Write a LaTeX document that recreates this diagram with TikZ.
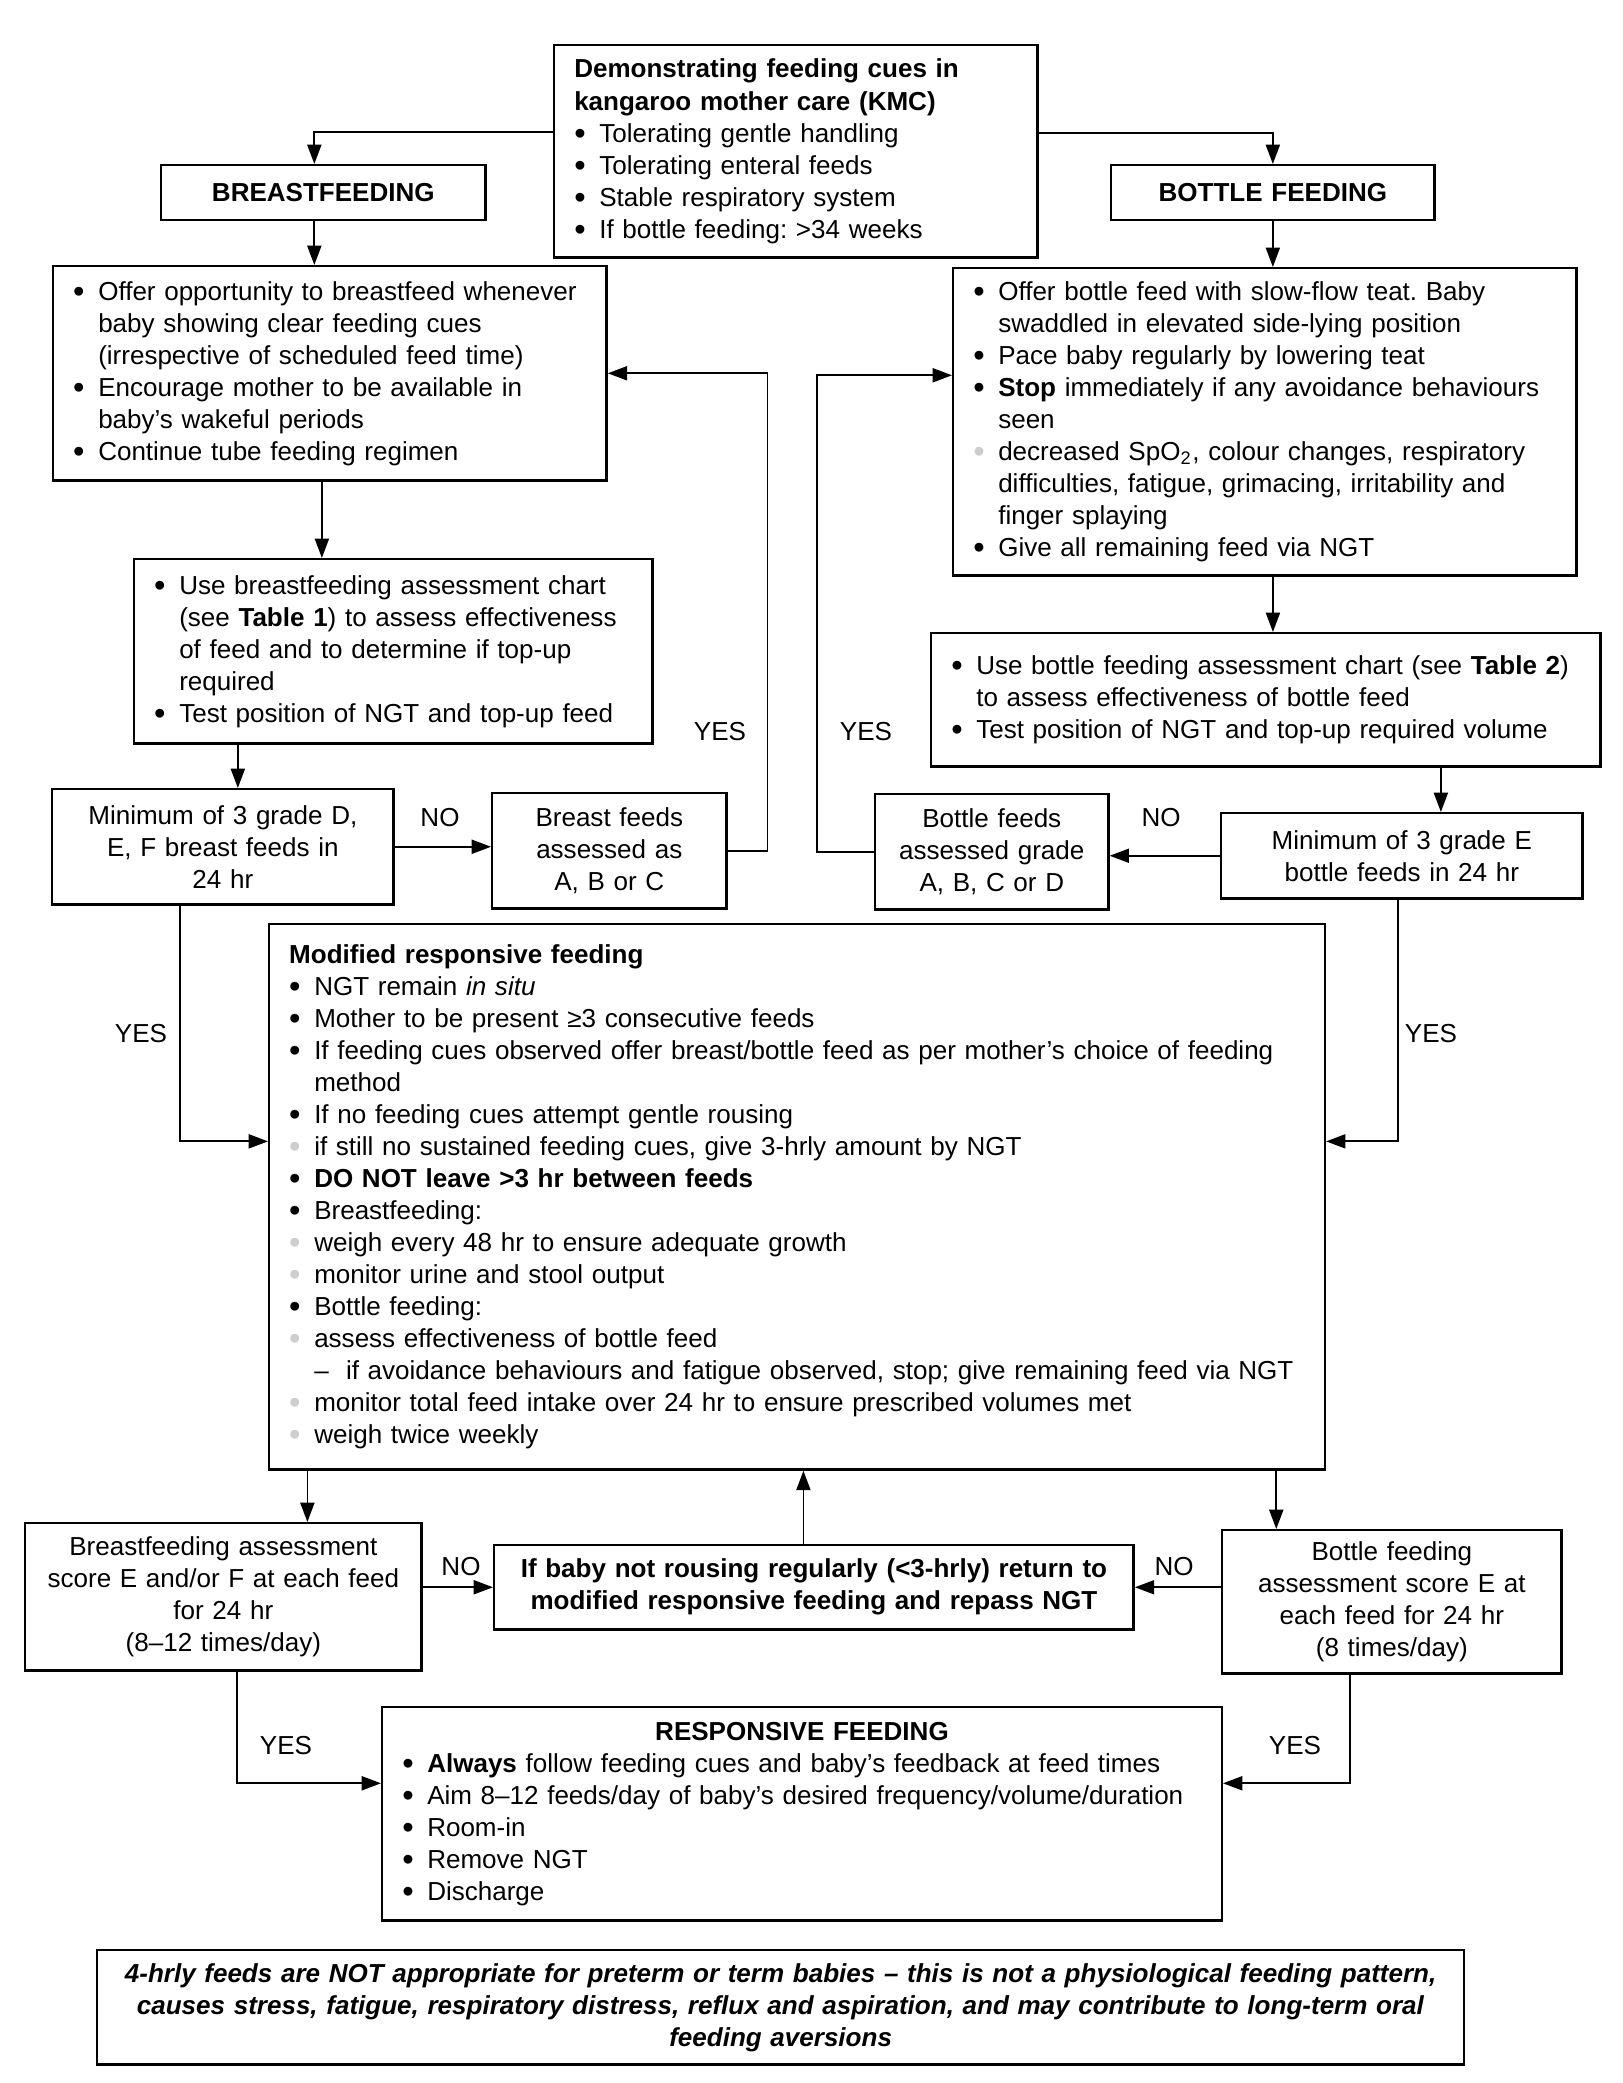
\documentclass[tikz,border=0pt]{standalone}
\usepackage{fontspec}
\setmainfont{Liberation Sans}
\usepackage{xcolor}
\usetikzlibrary{arrows.meta,positioning}
\definecolor{subgray}{RGB}{205,205,205}
\newcommand{\bul}{\makebox[0.25cm][l]{\raisebox{-0.15ex}{\scalebox{1.25}{\textbullet}}}}
\newcommand{\gbul}{\makebox[0.25cm][l]{\raisebox{-0.15ex}{\scalebox{1.25}{\textcolor{subgray}{\textbullet}}}}}
\newcommand{\cont}{\hspace*{0.25cm}}
\frenchspacing

\begin{document}
\begin{tikzpicture}[x=0.01cm, y=-0.01cm,
  box/.style={draw, line width=0.7pt, inner xsep=0.2cm, inner ysep=0pt, align=left,
    anchor=north west, font=\fontsize{7.4}{9.1}\selectfont},
  cbox/.style={box, inner xsep=0.1cm, align=center},
  arr/.style={line width=0.5pt, -{Triangle[length=5.5pt,width=4pt]}},
  lbl/.style={inner sep=0pt, font=\fontsize{7.4}{9.1}\selectfont}]
\fill[white] (0,0) rectangle (1622,2083);
\useasboundingbox (0,0) rectangle (1622,2083);

% top
\node[box, text width=4.43cm, minimum height=2.12cm] (kmc) at (553,44)
  {\textbf{Demonstrating feeding cues in}\\ \textbf{kangaroo mother care (KMC)}\\
   \bul Tolerating gentle handling\\ \bul Tolerating enteral feeds\\
   \bul Stable respiratory system\\ \bul If bottle feeding: >34 weeks};
\node[cbox, text width=3.04cm, minimum height=0.55cm] (bf) at (160,164) {\textbf{BREASTFEEDING}};
\node[cbox, text width=3.03cm, minimum height=0.55cm] (bt) at (1110,164) {\textbf{BOTTLE FEEDING}};

% breastfeeding side
\node[box, text width=5.13cm, minimum height=2.14cm] (lb1) at (52,265)
  {\bul Offer opportunity to breastfeed whenever\\ \cont baby showing clear feeding cues\\
   \cont (irrespective of scheduled feed time)\\ \bul Encourage mother to be available in\\
   \cont baby's wakeful periods\\ \bul Continue tube feeding regimen};
\node[box, text width=4.78cm, minimum height=1.84cm] (lb2) at (133,558)
  {\bul Use breastfeeding assessment chart\\ \cont (see \textbf{Table 1}) to assess effectiveness\\
   \cont of feed and to determine if top-up\\ \cont required\\
   \bul Test position of NGT and top-up feed};
\node[cbox, text width=3.21cm, minimum height=1.15cm] (lmin) at (51,788)
  {Minimum of 3 grade D,\\ E, F breast feeds in\\ 24 hr};
\node[cbox, text width=2.14cm, minimum height=1.15cm] (lass) at (491,792)
  {Breast feeds\\ assessed as\\ A, B or C};

% bottle side
\node[box, text width=5.83cm, minimum height=3.07cm] (rb1) at (952,267)
  {\bul Offer bottle feed with slow-flow teat. Baby\\ \cont swaddled in elevated side-lying position\\
   \bul Pace baby regularly by lowering teat\\
   \bul \textbf{Stop} immediately if any avoidance behaviours\\ \cont seen\\
   \gbul decreased SpO\textsubscript{2}, colour changes, respiratory\\
   \cont difficulties, fatigue, grimacing, irritability and\\ \cont finger splaying\\
   \bul Give all remaining feed via NGT};
\node[box, text width=6.29cm, minimum height=1.33cm] (rb2) at (930,632)
  {\bul Use bottle feeding assessment chart (see \textbf{Table 2})\\
   \cont to assess effectiveness of bottle feed\\
   \bul Test position of NGT and top-up required volume};
\node[cbox, text width=3.41cm, minimum height=0.85cm] (rmin) at (1220,812)
  {Minimum of 3 grade E\\ bottle feeds in 24 hr};
\node[cbox, text width=2.13cm, minimum height=1.15cm] (rass) at (874,793)
  {Bottle feeds\\ assessed grade\\ A, B, C or D};

% middle
\node[box, text width=10.15cm, minimum height=5.45cm] (mod) at (268,923)
  {\textbf{Modified responsive feeding}\\
   \bul NGT remain \textit{in situ}\\
   \bul Mother to be present ≥3 consecutive feeds\\
   \bul If feeding cues observed offer breast/bottle feed as per mother's choice of feeding\\ \cont method\\
   \bul If no feeding cues attempt gentle rousing\\
   \gbul if still no sustained feeding cues, give 3-hrly amount by NGT\\
   \bul \textbf{DO NOT leave >3 hr between feeds}\\
   \bul Breastfeeding:\\
   \gbul weigh every 48 hr to ensure adequate growth\\
   \gbul monitor urine and stool output\\
   \bul Bottle feeding:\\
   \gbul assess effectiveness of bottle feed\\
   \cont –\ \ if avoidance behaviours and fatigue observed, stop; give remaining feed via NGT\\
   \gbul monitor total feed intake over 24 hr to ensure prescribed volumes met\\
   \gbul weigh twice weekly};

% bottom
\node[cbox, text width=3.76cm, minimum height=1.47cm] (lsc) at (24,1522)
  {Breastfeeding assessment\\ score E and/or F at each feed\\ for 24 hr\\ (8–12 times/day)};
\node[cbox, text width=6.19cm, minimum height=0.84cm] (mid) at (493,1544)
  {\textbf{If baby not rousing regularly (<3-hrly) return to}\\
   \textbf{modified responsive feeding and repass NGT}};
\node[cbox, text width=3.19cm, minimum height=1.43cm] (rsc) at (1221,1529)
  {Bottle feeding\\ assessment score E at\\ each feed for 24 hr\\ (8 times/day)};
\node[box, text width=7.99cm, minimum height=2.13cm] (resp) at (381,1706)
  {\makebox[7.99cm][c]{\textbf{RESPONSIVE FEEDING}}\\
   \bul \textbf{Always} follow feeding cues and baby's feedback at feed times\\
   \bul Aim 8–12 feeds/day of baby's desired frequency/volume/duration\\
   \bul Room-in\\ \bul Remove NGT\\ \bul Discharge};
\node[cbox, text width=13.46cm, minimum height=1.14cm] (foot) at (96,1949)
  {\textbf{\textit{4-hrly feeds are NOT appropriate for preterm or term babies – this is not a physiological feeding pattern,}}\\
   \textbf{\textit{causes stress, fatigue, respiratory distress, reflux and aspiration, and may contribute to long-term oral}}\\
   \textbf{\textit{feeding aversions}}};

% connectors
\draw[arr] ([yshift=0.19cm]kmc.west) -| ([xshift=-0.09cm]bf.north);
\draw[arr] ([yshift=0.18cm]kmc.east) -| (bt.north);
\draw[arr] ([xshift=-0.09cm]bf.south) -- ([xshift=-0.09cm]bf.south |- lb1.north);
\draw[arr] (bt.south) -- (bt.south |- rb1.north);
\draw[arr] ([xshift=-0.08cm]lb1.south) -- ([xshift=-0.08cm]lb1.south |- lb2.north);
\draw[arr] ([xshift=0.08cm]rb1.south) -- ([xshift=0.08cm]rb1.south |- rb2.north);
\draw[arr] ([xshift=0.15cm]lmin.north |- lb2.south) -- ([xshift=0.15cm]lmin.north);
\draw[arr] ([xshift=0.39cm]rmin.north |- rb2.south) -- ([xshift=0.39cm]rmin.north);
\draw[arr] (lmin.east) -- (lmin.east -| lass.west);
\draw[arr] (lass.east) -- ++(40,0) |- (lb1.east);
\draw[arr] (rmin.west) -- (rmin.west -| rass.east);
\draw[arr] (rass.west) -- ++(-57,0) |- ([yshift=0.465cm]rb1.west);
\draw[arr] ([xshift=-0.425cm]lmin.south) |- ([yshift=0.555cm]mod.west);
\draw[arr] ([xshift=-0.035cm]rmin.south) |- ([yshift=0.555cm]mod.east);
\draw[arr] ([xshift=0.84cm]lsc.north |- mod.south) -- ([xshift=0.84cm]lsc.north);
\draw[arr] ([xshift=-1.155cm]rsc.north |- mod.south) -- ([xshift=-1.155cm]rsc.north);
\draw[arr] ([xshift=-0.105cm]mid.north) -- ([xshift=-0.105cm]mid.north |- mod.south);
\draw[arr] (mid.west -| lsc.east) -- (mid.west);
\draw[arr] (mid.east -| rsc.west) -- (mid.east);
\draw[arr] ([xshift=0.14cm]lsc.south) |- ([yshift=0.305cm]resp.west);
\draw[arr] ([xshift=-0.415cm]rsc.south) |- ([yshift=0.305cm]resp.east);

% labels
\node[lbl] (no1) at (440,818) {NO};
\node[lbl] (no2) at (1161,818) {NO};
\node[lbl] (no3) at (461,1567) {NO};
\node[lbl] (no4) at (1174,1567) {NO};
\node[lbl] (yes1) at (720,732) {YES};
\node[lbl] (yes2) at (866,732) {YES};
\node[lbl] (yes3) at (141,1034) {YES};
\node[lbl] (yes4) at (1431,1034) {YES};
\node[lbl] (yes5) at (286,1746) {YES};
\node[lbl] (yes6) at (1295,1746) {YES};
\end{tikzpicture}
\end{document}
